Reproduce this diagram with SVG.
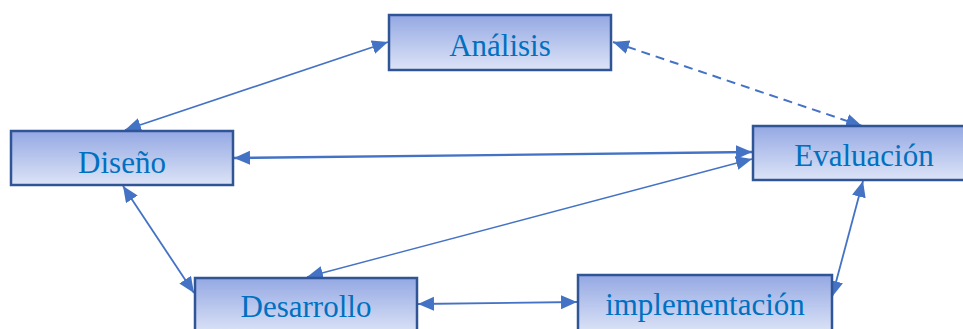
<svg xmlns="http://www.w3.org/2000/svg" width="963" height="329" viewBox="0 0 963 329">
  <defs>
    <linearGradient id="boxfill" x1="0" y1="0" x2="0" y2="1">
      <stop offset="0" stop-color="#94A8E3"/>
      <stop offset="1" stop-color="#DDE4F7"/>
    </linearGradient>
    <marker id="arr" markerUnits="userSpaceOnUse" markerWidth="17" markerHeight="15" refX="16" refY="7" orient="auto-start-reverse">
      <path d="M0,0 L16,7 L0,14 z" fill="#4472C4"/>
    </marker>
    <style>
      .box rect { fill: url(#boxfill); stroke: #2F5597; stroke-width: 2.5; }
      .box text { font-family: "Liberation Serif", "Times New Roman", serif; font-size: 31px; fill: #0070C0; text-anchor: middle; }
      .conn line { stroke: #4472C4; stroke-width: 1.8; fill: none; marker-start: url(#arr); marker-end: url(#arr); }
      .conn line.dash { stroke-dasharray: 9 6; stroke-width: 2; }
      .conn line.thick { stroke-width: 2.3; }
      .conn line.thin { stroke-width: 1.4; }
    </style>
  </defs>
  <rect width="963" height="329" fill="#FFFFFF"/>

  <g id="connectors" class="conn">
    <line x1="125" y1="130" x2="388" y2="42"/>
    <line class="dash" x1="613" y1="42" x2="862" y2="126"/>
    <line class="thick" x1="234" y1="158" x2="752" y2="152"/>
    <line class="thin" x1="307" y1="277" x2="752" y2="159"/>
    <line x1="123" y1="186" x2="194" y2="293"/>
    <line x1="418" y1="304" x2="577" y2="302"/>
    <line x1="863" y1="181" x2="832" y2="297"/>
  </g>

  <g id="analisis" class="box">
    <rect x="389" y="15" width="222" height="55"/>
    <text x="500" y="56">Análisis</text>
  </g>
  <g id="diseno" class="box">
    <rect x="11" y="131" width="222" height="54"/>
    <text x="122" y="173">Diseño</text>
  </g>
  <g id="evaluacion" class="box">
    <rect x="753" y="126" width="222" height="54"/>
    <text x="864" y="166">Evaluación</text>
  </g>
  <g id="desarrollo" class="box">
    <rect x="195" y="278" width="222" height="56"/>
    <text x="306" y="317">Desarrollo</text>
  </g>
  <g id="implementacion" class="box">
    <rect x="578" y="275" width="254" height="58"/>
    <text x="705" y="315">implementación</text>
  </g>
</svg>
